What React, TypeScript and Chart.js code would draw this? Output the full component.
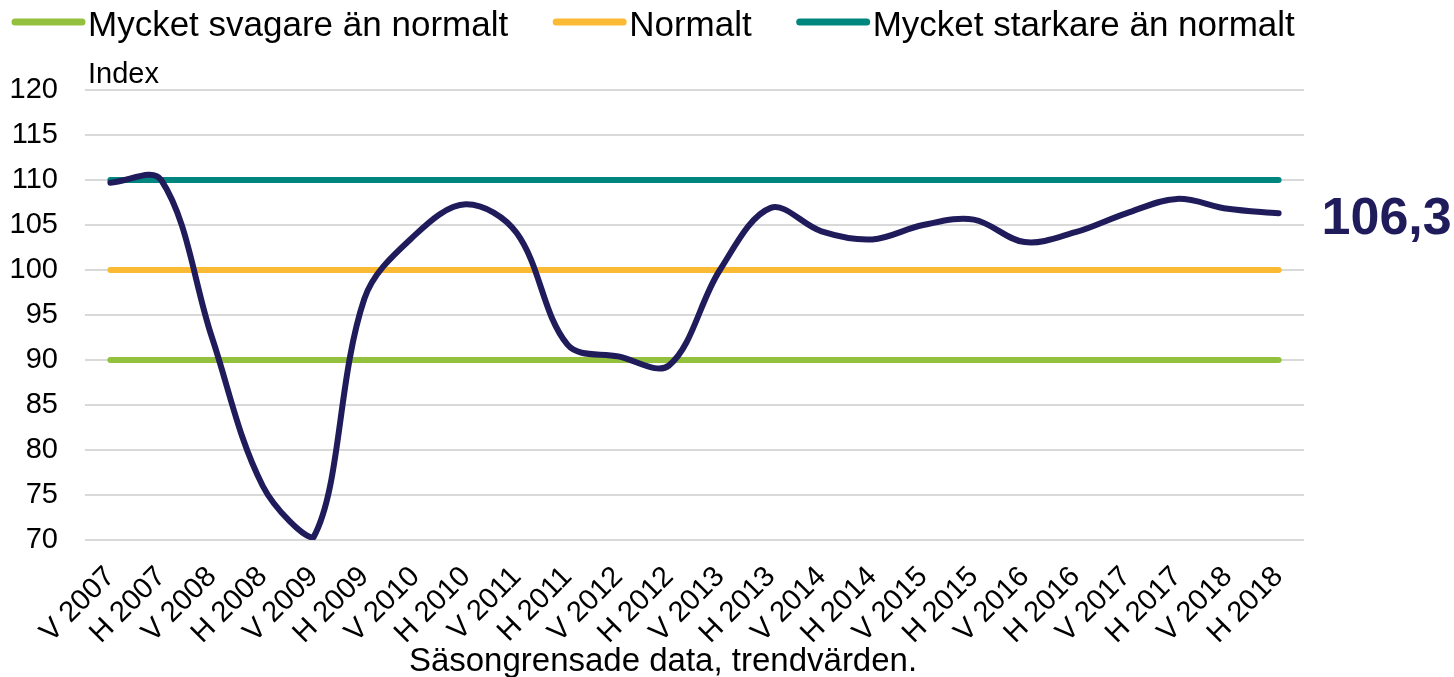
import React, { useEffect, useRef } from 'react';
import { Chart, registerables } from 'chart.js';

Chart.register(...registerables);

const FONT = '"Liberation Sans", Arial, Helvetica, sans-serif';

const categories = [
  'V 2007', 'H 2007', 'V 2008', 'H 2008', 'V 2009', 'H 2009',
  'V 2010', 'H 2010', 'V 2011', 'H 2011', 'V 2012', 'H 2012',
  'V 2013', 'H 2013', 'V 2014', 'H 2014', 'V 2015', 'H 2015',
  'V 2016', 'H 2016', 'V 2017', 'H 2017', 'V 2018', 'H 2018',
];

const indexValues = [
  109.7, 110.0, 92.5, 76.0, 70.3, 96.8,
  103.9, 107.3, 104.1, 91.7, 90.4, 89.4,
  100.0, 106.9, 104.3, 103.4, 105.0, 105.6,
  103.1, 104.2, 106.3, 107.9, 106.8, 106.3,
];

const weakLevel = [
  90, 90, 90, 90, 90, 90, 90, 90, 90, 90, 90, 90,
  90, 90, 90, 90, 90, 90, 90, 90, 90, 90, 90, 90,
];
const normalLevel = [
  100, 100, 100, 100, 100, 100, 100, 100, 100, 100, 100, 100,
  100, 100, 100, 100, 100, 100, 100, 100, 100, 100, 100, 100,
];
const strongLevel = [
  110, 110, 110, 110, 110, 110, 110, 110, 110, 110, 110, 110,
  110, 110, 110, 110, 110, 110, 110, 110, 110, 110, 110, 110,
];

const seriesLabels = ['Mycket svagare än normalt', 'Normalt', 'Mycket starkare än normalt'];
const yMin = 70;
const yMax = 120;
const yStep = 5;
const axisUnit = 'Index';
const footnote = 'Säsongrensade data, trendvärden.';
const latestLabel = '106,3';

const NAVY = '#201C5C';
const GREEN = '#93C13D';
const ORANGE = '#FBBA33';
const TEAL = '#00857F';

const overlayPlugin = {
  id: 'overlay',
  afterDraw(chart: any) {
    const ctx = chart.ctx;
    const area = chart.chartArea;
    ctx.save();

    // legend
    let x = 12;
    const ly = 22;
    ctx.font = `35px ${FONT}`;
    ctx.textAlign = 'left';
    ctx.textBaseline = 'alphabetic';
    chart.data.datasets.forEach((ds: any) => {
      if (!ds.label) return;
      ctx.strokeStyle = ds.borderColor;
      ctx.lineWidth = 7;
      ctx.lineCap = 'round';
      ctx.beginPath();
      ctx.moveTo(x + 3, ly);
      ctx.lineTo(x + 70, ly);
      ctx.stroke();
      x += 76;
      ctx.fillStyle = '#000';
      ctx.fillText(ds.label, x, 36);
      x += ctx.measureText(ds.label).width + 45;
    });

    // unit label
    ctx.font = `29px ${FONT}`;
    ctx.fillStyle = '#000';
    ctx.fillText(axisUnit, area.left + 3, 83);

    // footnote
    ctx.textAlign = 'center';
    ctx.font = `33px ${FONT}`;
    ctx.fillText(footnote, 663, 671);

    // latest value label
    const meta = chart.getDatasetMeta(0);
    const last = meta.data[meta.data.length - 1];
    ctx.textAlign = 'left';
    ctx.font = `bold 52px ${FONT}`;
    ctx.fillStyle = NAVY;
    ctx.textBaseline = 'middle';
    ctx.fillText(latestLabel, last.x + 43, last.y + 6);

    ctx.restore();
  },
};

export default function App() {
  const ref = useRef<HTMLCanvasElement | null>(null);

  useEffect(() => {
    if (!ref.current) return;
    const chart = new Chart(ref.current, {
      type: 'line',
      data: {
        labels: categories,
        datasets: [
          {
            label: '',
            data: indexValues,
            borderColor: NAVY,
            borderWidth: 6,
            tension: 0.35,
            borderCapStyle: 'round',
            borderJoinStyle: 'round',
            pointRadius: 0,
            order: 0,
          },
          {
            label: seriesLabels[0],
            data: weakLevel,
            borderColor: GREEN,
            borderWidth: 6,
            borderCapStyle: 'round',
            pointRadius: 0,
            order: 1,
          },
          {
            label: seriesLabels[1],
            data: normalLevel,
            borderColor: ORANGE,
            borderWidth: 6,
            borderCapStyle: 'round',
            pointRadius: 0,
            order: 1,
          },
          {
            label: seriesLabels[2],
            data: strongLevel,
            borderColor: TEAL,
            borderWidth: 6,
            borderCapStyle: 'round',
            pointRadius: 0,
            order: 1,
          },
        ],
      },
      options: {
        responsive: false,
        animation: false,
        layout: { padding: { top: 90, right: 150, left: 0, bottom: 0 } },
        plugins: {
          legend: { display: false },
          tooltip: { enabled: false },
          title: { display: false },
        },
        scales: {
          x: {
            type: 'category',
            offset: true,
            grid: { display: false, drawTicks: false },
            border: { display: false },
            ticks: {
              autoSkip: false,
              minRotation: 45,
              maxRotation: 45,
              padding: 20,
              color: '#000',
              font: { family: FONT, size: 29 },
            },
            afterFit: (s: any) => {
              s.height = 137;
            },
          },
          y: {
            min: yMin,
            max: yMax,
            ticks: {
              stepSize: yStep,
              padding: 27,
              color: '#000',
              font: { family: FONT, size: 29 },
            },
            grid: { color: '#D9D9D9', lineWidth: 2, drawTicks: false },
            border: { display: false },
            afterFit: (s: any) => {
              s.width = 85;
            },
          },
        },
      },
      plugins: [overlayPlugin],
    } as any);
    return () => chart.destroy();
  }, []);

  return (
    <div style={{ position: 'fixed', left: 0, top: 0, width: 1454, height: 677, background: '#fff' }}>
      <canvas ref={ref} width={1454} height={677} style={{ display: 'block' }} />
    </div>
  );
}
